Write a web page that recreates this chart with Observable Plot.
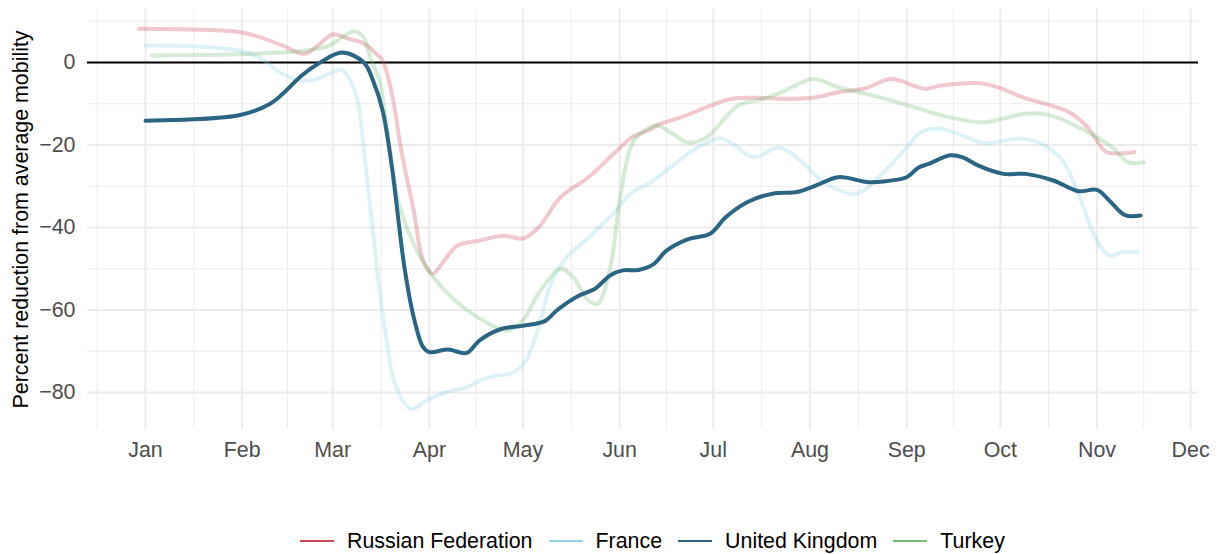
<!DOCTYPE html>
<html>
<head>
<meta charset="utf-8">
<script src="https://cdn.jsdelivr.net/npm/d3@7"></script>
<script src="https://cdn.jsdelivr.net/npm/@observablehq/plot@0.6"></script>
<style>
  body { margin: 0; background: #fff; font-family: "Liberation Sans", Arial, sans-serif; }
  #chart svg { display: block; }
  #legend { display: flex; align-items: center; height: 24px; margin-top: 7px; padding-left: 300px; font-size: 21.4px; color: #000; }
  .item { display: flex; align-items: center; margin-right: 16px; }
  .key { width: 34px; height: 2.5px; margin-right: 13px; }
</style>
</head>
<body>
<div id="chart"></div>
<div id="legend"></div>
<script>
// ---- data ----
const countries = ["Russian Federation", "France", "United Kingdom", "Turkey"];
const colors = ["#cd4858", "#8fd4e4", "#2b6584", "#73bc73"];
const yTitle = "Percent reduction from average mobility";

const ruDates = ["2019-12-30","2020-01-17","2020-01-31","2020-02-07","2020-02-14","2020-02-21","2020-02-26","2020-03-01","2020-03-06","2020-03-11","2020-03-15","2020-03-17","2020-03-20","2020-03-23","2020-03-27","2020-03-30","2020-04-02","2020-04-05","2020-04-10","2020-04-17","2020-04-25","2020-05-01","2020-05-06","2020-05-13","2020-05-22","2020-05-30","2020-06-05","2020-06-10","2020-06-14","2020-06-21","2020-06-29","2020-07-07","2020-07-17","2020-07-25","2020-08-03","2020-08-10","2020-08-19","2020-08-27","2020-09-04","2020-09-07","2020-09-12","2020-09-24","2020-10-01","2020-10-08","2020-10-17","2020-10-23","2020-10-29","2020-11-01","2020-11-04","2020-11-13"];
const ruValues = [8.2,8.0,7.4,6.1,4.1,2.1,4.6,6.8,5.8,4.6,2.1,0.5,-7.6,-21.3,-36,-48,-51.2,-48.8,-44.4,-43.2,-42,-42.7,-40,-32.7,-27.8,-22.2,-18.1,-16.5,-14.9,-13.2,-10.8,-8.8,-8.6,-8.8,-8.4,-7.2,-6.2,-4,-5.8,-6.4,-5.6,-5,-6.2,-8.4,-10.4,-12,-15.7,-19,-21.7,-21.7];

const frDates = ["2020-01-01","2020-01-17","2020-01-31","2020-02-07","2020-02-13","2020-02-18","2020-02-23","2020-02-29","2020-03-04","2020-03-06","2020-03-09","2020-03-11","2020-03-14","2020-03-16","2020-03-18","2020-03-21","2020-03-26","2020-03-31","2020-04-06","2020-04-13","2020-04-20","2020-04-28","2020-05-02","2020-05-06","2020-05-10","2020-05-15","2020-05-21","2020-05-30","2020-06-05","2020-06-10","2020-06-16","2020-06-23","2020-06-29","2020-07-03","2020-07-07","2020-07-14","2020-07-22","2020-07-29","2020-08-06","2020-08-16","2020-08-23","2020-09-01","2020-09-05","2020-09-11","2020-09-19","2020-09-26","2020-10-07","2020-10-14","2020-10-21","2020-10-26","2020-11-01","2020-11-05","2020-11-09","2020-11-14"];
const frValues = [4.1,3.9,2.9,1.0,-2.4,-4,-4.4,-2.7,-1.8,-3.5,-9.2,-21.3,-41.5,-55,-65.8,-77.9,-84,-82,-80,-78.7,-76.3,-75.1,-72.2,-64.2,-53.6,-47.2,-43.2,-36.6,-31.4,-29.5,-26.2,-22.1,-19.4,-18.4,-19.6,-23,-20.6,-23.8,-29.3,-31.8,-27.8,-20.6,-17.2,-16,-17.7,-19.6,-18.4,-19.6,-23.8,-31.8,-43.2,-46.8,-46,-46];

const ukDates = ["2020-01-01","2020-01-31","2020-02-10","2020-02-14","2020-02-20","2020-02-26","2020-03-04","2020-03-11","2020-03-14","2020-03-17","2020-03-20","2020-03-24","2020-03-27","2020-03-30","2020-04-01","2020-04-07","2020-04-13","2020-04-17","2020-04-24","2020-05-01","2020-05-08","2020-05-12","2020-05-19","2020-05-24","2020-05-29","2020-06-02","2020-06-07","2020-06-12","2020-06-16","2020-06-23","2020-06-30","2020-07-05","2020-07-12","2020-07-20","2020-07-28","2020-08-03","2020-08-10","2020-08-20","2020-08-29","2020-09-01","2020-09-05","2020-09-08","2020-09-15","2020-09-19","2020-09-24","2020-10-02","2020-10-09","2020-10-18","2020-10-26","2020-11-01","2020-11-05","2020-11-10","2020-11-15"];
const ukValues = [-14.1,-12.8,-10,-7.6,-3.2,0,2.4,0,-4.5,-11.6,-25.4,-49.6,-61.8,-69,-70.2,-69.6,-70.4,-67.4,-64.6,-63.8,-62.7,-60,-56.5,-54.9,-51.6,-50.4,-50.3,-48.8,-45.6,-42.8,-41.5,-37.5,-33.8,-31.8,-31.4,-29.8,-27.8,-29,-28.4,-27.8,-25.4,-24.6,-22.5,-23,-25,-27,-27,-28.6,-31.2,-30.9,-33.5,-37,-37.1];

const trDates = ["2020-01-03","2020-01-31","2020-02-13","2020-02-23","2020-02-29","2020-03-04","2020-03-08","2020-03-11","2020-03-13","2020-03-16","2020-03-22","2020-03-27","2020-03-31","2020-04-06","2020-04-13","2020-04-20","2020-04-26","2020-05-01","2020-05-06","2020-05-13","2020-05-17","2020-05-22","2020-05-25","2020-05-29","2020-06-01","2020-06-05","2020-06-09","2020-06-13","2020-06-18","2020-06-23","2020-06-29","2020-07-04","2020-07-09","2020-07-17","2020-07-23","2020-08-02","2020-08-10","2020-08-19","2020-08-27","2020-09-05","2020-09-12","2020-09-25","2020-10-02","2020-10-09","2020-10-17","2020-10-25","2020-11-01","2020-11-06","2020-11-11","2020-11-16"];
const trValues = [1.7,2.0,2.4,3.1,4.1,6.1,7.6,6.1,1.3,-4.4,-33.5,-44,-49.6,-55.3,-60,-63.3,-65,-62.5,-56,-50,-52,-57.7,-58.5,-49.6,-33.5,-19.7,-16.5,-15.3,-17.3,-19.4,-18.1,-14.1,-10.4,-8.8,-7.2,-4,-6,-7.6,-9.2,-11.2,-12.8,-14.5,-13.6,-12.4,-12.8,-15.3,-18.1,-20.6,-24.2,-24.2];

const monthTicks = ["2020-01-01","2020-02-01","2020-03-01","2020-04-01","2020-05-01","2020-06-01","2020-07-01","2020-08-01","2020-09-01","2020-10-01","2020-11-01","2020-12-01"];
const monthLabels = ["Jan","Feb","Mar","Apr","May","Jun","Jul","Aug","Sep","Oct","Nov","Dec"];
const yMajor = [-80, -60, -40, -20, 0];
const yMinor = [-70, -50, -30, -10, 10];

// ---- build rows ----
const parse = s => new Date(s + "T00:00:00Z");
function rows(name, dates, values) { return dates.map((d, i) => ({country: name, date: parse(d), value: values[i]})); }
const ru = rows(countries[0], ruDates, ruValues);
const fr = rows(countries[1], frDates, frValues);
const uk = rows(countries[2], ukDates, ukValues);
const tr = rows(countries[3], trDates, trValues);

const majorX = monthTicks.map(parse);
const minorX = [new Date(Date.UTC(2019, 11, 16, 12))];
for (let i = 0; i < majorX.length - 1; i++) minorX.push(new Date((+majorX[i] + +majorX[i + 1]) / 2));
const labelOf = new Map(majorX.map((d, i) => [+d, monthLabels[i]]));

const grid = "#ebebeb";
const plot = Plot.plot({
  width: 1222,
  height: 522,
  marginLeft: 87,
  marginRight: 24,
  marginTop: 9,
  marginBottom: 93,
  style: {fontFamily: "'Liberation Sans', Arial, sans-serif", fontSize: "21.4px", background: "#fff"},
  x: {type: "utc", domain: [new Date(Date.UTC(2019, 11, 13, 10)), new Date(Date.UTC(2020, 11, 3, 13))]},
  y: {domain: [-88.97, 12.85]},
  marks: [
    Plot.ruleY(yMinor, {stroke: grid, strokeWidth: 1}),
    Plot.ruleX(minorX, {stroke: grid, strokeWidth: 1}),
    Plot.ruleY(yMajor, {stroke: grid, strokeWidth: 2}),
    Plot.ruleX(majorX, {stroke: grid, strokeWidth: 2}),
    Plot.ruleY([0], {stroke: "#000", strokeWidth: 1.8}),
    Plot.lineY(ru, {x: "date", y: "value", stroke: colors[0], strokeOpacity: 0.3, strokeWidth: 4, curve: "catmull-rom"}),
    Plot.lineY(fr, {x: "date", y: "value", stroke: colors[1], strokeOpacity: 0.3, strokeWidth: 4, curve: "catmull-rom"}),
    Plot.lineY(tr, {x: "date", y: "value", stroke: colors[3], strokeOpacity: 0.3, strokeWidth: 4, curve: "catmull-rom"}),
    Plot.lineY(uk, {x: "date", y: "value", stroke: colors[2], strokeWidth: 4, curve: "catmull-rom"}),
    Plot.axisX(majorX, {tickSize: 0, tickPadding: 12, tickFormat: d => labelOf.get(+d), fill: "#4d4d4d", label: null}),
    Plot.axisY(yMajor, {tickSize: 0, tickPadding: 12, tickFormat: d => d < 0 ? "\u2212" + Math.abs(d) : String(d), fill: "#4d4d4d", label: null}),
    Plot.text([yTitle], {text: d => d, frameAnchor: "left", textAnchor: "middle", lineAnchor: "middle", dx: -66, rotate: -90, fill: "#000", fontSize: 21.4})
  ]
});
document.getElementById("chart").appendChild(plot);

// ---- legend ----
const legend = document.getElementById("legend");
countries.forEach((c, i) => {
  const item = document.createElement("div");
  item.className = "item";
  const key = document.createElement("span");
  key.className = "key";
  key.style.background = colors[i];
  const label = document.createElement("span");
  label.textContent = c;
  item.appendChild(key);
  item.appendChild(label);
  legend.appendChild(item);
});
</script>
</body>
</html>
